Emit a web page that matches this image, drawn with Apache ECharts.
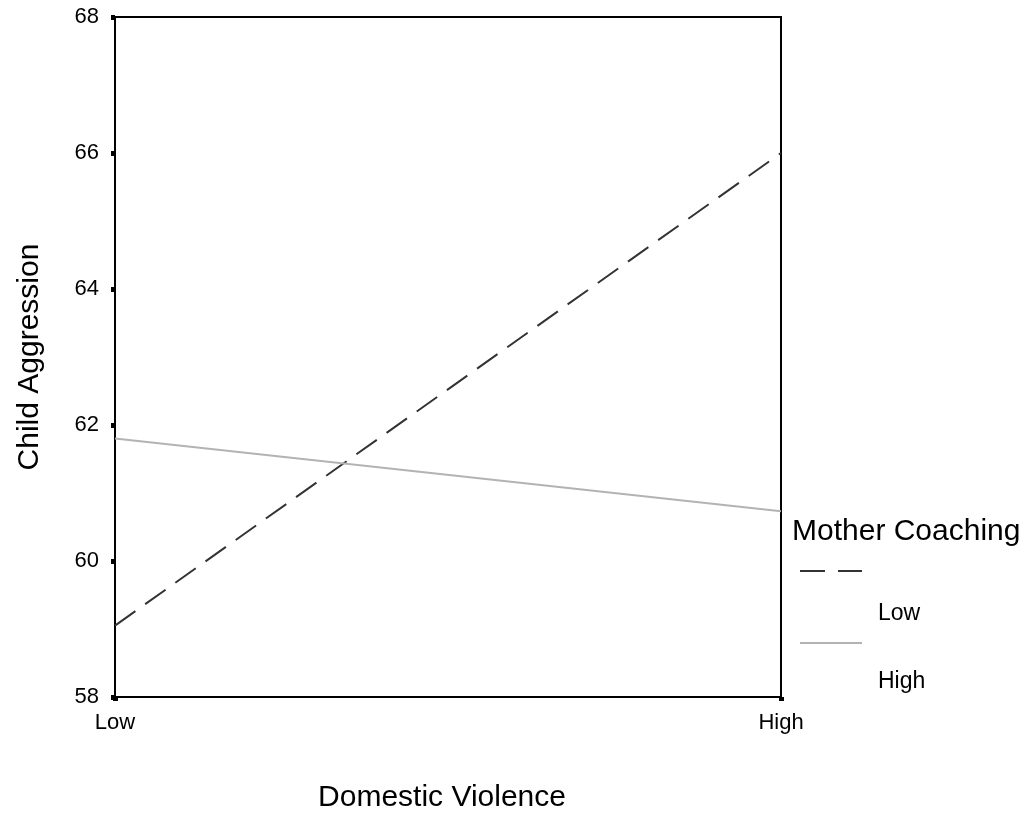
<!DOCTYPE html>
<html>
<head>
<meta charset="utf-8">
<script src="https://cdn.jsdelivr.net/npm/echarts@6/dist/echarts.min.js"></script>
<style>
  html, body { margin: 0; padding: 0; background: #fff; }
  #chart { width: 1034px; height: 814px; }
</style>
</head>
<body>
<div id="chart"></div>
<script>
// Domestic violence levels on the x axis
const categories = ['Low', 'High'];
// Predicted child aggression per mother-coaching group
const lowCoaching = [59.05, 66.0];
const highCoaching = [61.8, 60.73];
const seriesNames = ['Low', 'High'];
const yTicks = { min: 58, max: 68, interval: 2 };

const FONT = 'Liberation Sans, Arial, sans-serif';
const chart = echarts.init(document.getElementById('chart'));

const legendX = 800;
chart.setOption({
  animation: false,
  backgroundColor: '#ffffff',
  grid: {
    left: 115, right: 253, top: 17, bottom: 117,
    containLabel: false,
    outerBoundsMode: 'none',
    show: true, borderColor: '#000', borderWidth: 2, backgroundColor: 'transparent'
  },
  xAxis: {
    type: 'category',
    data: categories,
    boundaryGap: false,
    name: 'Domestic Violence',
    nameLocation: 'middle',
    nameGap: 86,
    nameTextStyle: { fontFamily: FONT, fontSize: 30, color: '#000', padding: [0, 12, 0, 0] },
    axisLine: { lineStyle: { color: '#000', width: 2 } },
    axisTick: { show: true, length: 4, alignWithLabel: true, lineStyle: { color: '#000', width: 5 } },
    axisLabel: { fontFamily: FONT, fontSize: 22, color: '#000', margin: 15 },
    splitLine: { show: false }
  },
  yAxis: {
    type: 'value',
    min: yTicks.min, max: yTicks.max, interval: yTicks.interval,
    name: 'Child Aggression',
    nameLocation: 'middle',
    nameGap: 70,
    nameRotate: 90,
    nameTextStyle: { fontFamily: FONT, fontSize: 30, color: '#000' },
    axisLine: { show: true, lineStyle: { color: '#000', width: 2 } },
    axisTick: { show: true, length: 4, lineStyle: { color: '#000', width: 5 } },
    axisLabel: { fontFamily: FONT, fontSize: 22, color: '#000', margin: 16 },
    splitLine: { show: false }
  },
  series: [
    {
      name: seriesNames[0],
      type: 'line',
      data: lowCoaching,
      showSymbol: false,
      lineStyle: { color: '#333333', width: 2, type: [25, 12] }
    },
    {
      name: seriesNames[1],
      type: 'line',
      data: highCoaching,
      showSymbol: false,
      lineStyle: { color: '#b3b3b3', width: 2 }
    }
  ],
  graphic: [
    { type: 'text', left: 792, top: 517,
      style: { text: 'Mother Coaching', font: '30px ' + FONT, fill: '#000' } },
    { type: 'line', shape: { x1: legendX, y1: 571, x2: legendX + 62, y2: 571 },
      style: { stroke: '#333333', lineWidth: 2, lineDash: [25, 13] } },
    { type: 'text', left: 878, top: 602,
      style: { text: seriesNames[0], font: '23px ' + FONT, fill: '#000' } },
    { type: 'line', shape: { x1: legendX, y1: 643, x2: legendX + 62, y2: 643 },
      style: { stroke: '#b3b3b3', lineWidth: 2 } },
    { type: 'text', left: 878, top: 670,
      style: { text: seriesNames[1], font: '23px ' + FONT, fill: '#000' } }
  ]
});
</script>
</body>
</html>
